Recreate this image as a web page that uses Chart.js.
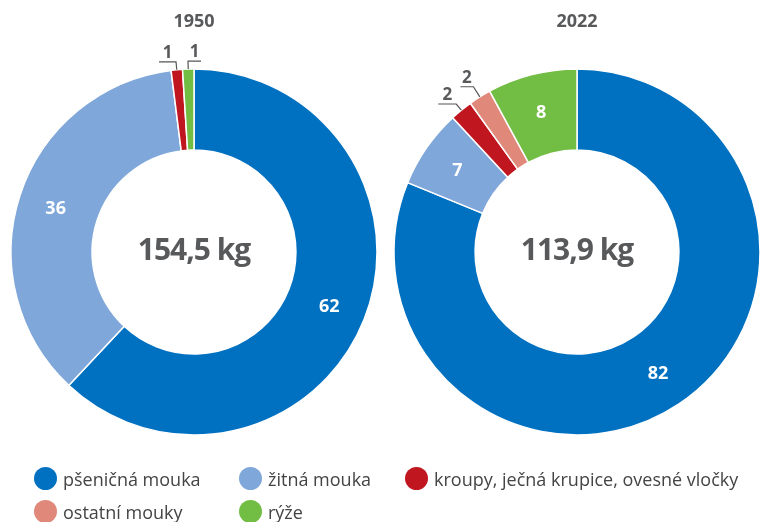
<!DOCTYPE html>
<html>
<head>
<meta charset="utf-8">
<script src="https://cdn.jsdelivr.net/npm/chart.js@4/dist/chart.umd.min.js"></script>
<style>
  html, body { margin:0; padding:0; background:#fff; width:763px; height:522px; overflow:hidden; font-family:"Open Sans", sans-serif; }
  #c1 { position:absolute; left:0; top:0; }
  #c2 { position:absolute; left:389px; top:0; }
  #legend { position:absolute; left:34px; top:462px; display:grid; grid-template-columns:205px 166px auto; grid-auto-rows:33px; z-index:2; }
  .item { display:flex; align-items:center; font-size:18px; color:#444; white-space:nowrap; }
  .dot { width:23px; height:23px; border-radius:50%; margin-right:6px; flex:none; }
</style>
</head>
<body>
<canvas id="c1" width="388" height="504"></canvas>
<canvas id="c2" width="376" height="504"></canvas>
<div id="legend"></div>
<script>
// ---- data ----
const categories = ['pšeničná mouka', 'žitná mouka', 'kroupy, ječná krupice, ovesné vločky', 'ostatní mouky', 'rýže'];
const years = ['1950', '2022'];
const values1950 = [62, 36, 1, 0, 1];
const values2022 = [82, 7, 2, 2, 8];
const totals = ['154,5 kg', '113,9 kg'];
const colors = ['#0070C0', '#7FA7D9', '#C0161F', '#E0897A', '#72BE44'];

const GREY = '#58595b';

const labelPlugin = {
  id: 'sliceLabels',
  afterDatasetsDraw(chart, args, opts) {
    const ctx = chart.ctx;
    const meta = chart.getDatasetMeta(0);
    const data = chart.data.datasets[0].data;
    const first = meta.data[0];
    const cx = first.x, cy = first.y;
    ctx.save();
    ctx.textAlign = 'center';
    ctx.textBaseline = 'alphabetic';
    // title
    ctx.fillStyle = GREY;
    ctx.font = 'bold 18px "Open Sans"';
    ctx.fillText(opts.title, cx, 27);
    // total in the hole
    ctx.font = 'bold 30px "Open Sans"';
    ctx.letterSpacing = '-1px';
    ctx.fillText(opts.total, cx, cy + 8);
    ctx.letterSpacing = '0px';
    meta.data.forEach((arc, i) => {
      const v = data[i];
      if (!v) return;
      const p = arc.getProps(['startAngle', 'endAngle', 'innerRadius', 'outerRadius'], true);
      const mid = (p.startAngle + p.endAngle) / 2;
      const cos = Math.cos(mid), sin = Math.sin(mid);
      const txt = String(Math.round(v));
      if (v >= 5) {
        const r = (p.innerRadius + p.outerRadius) / 2 + 3;
        ctx.fillStyle = '#fff';
        ctx.font = 'bold 18px "Open Sans"';
        ctx.fillText(txt, cx + r * cos, cy + r * sin + 6.5);
      } else {
        const c = opts.callouts[i] || { side: 'left', elbow: 8, len: 15 };
        const x0 = cx + p.outerRadius * cos, y0 = cy + p.outerRadius * sin;
        const x1 = x0 + c.elbow * cos, y1 = y0 + c.elbow * sin;
        const x2 = x1 + (c.side === 'left' ? -c.len : c.len);
        ctx.strokeStyle = '#555';
        ctx.lineWidth = 1.2;
        ctx.beginPath();
        ctx.moveTo(x0, y0);
        ctx.lineTo(x1, y1);
        ctx.lineTo(x2, y1);
        ctx.stroke();
        ctx.fillStyle = GREY;
        ctx.font = 'bold 17px "Open Sans"';
        ctx.fillText(txt, (x1 + x2) / 2, y1 - 4);
      }
    });
    ctx.restore();
  }
};

function makeChart(id, values, title, total, callouts) {
  return new Chart(document.getElementById(id), {
    type: 'doughnut',
    data: {
      labels: categories,
      datasets: [{
        data: values,
        backgroundColor: colors,
        borderColor: '#ffffff',
        borderWidth: 1.5,
        hoverOffset: 0
      }]
    },
    options: {
      responsive: false,
      animation: false,
      radius: 183,
      cutout: '55.7%',
      layout: { padding: 0 },
      plugins: {
        legend: { display: false },
        tooltip: { enabled: false },
        sliceLabels: { title, total, callouts }
      }
    },
    plugins: [labelPlugin]
  });
}

makeChart('c1', values1950, years[0], totals[0], {
  2: { side: 'left', elbow: 8, len: 17 },
  4: { side: 'right', elbow: 8, len: 13 }
});
makeChart('c2', values2022, years[1], totals[1], {
  2: { side: 'left', elbow: 8, len: 18 },
  3: { side: 'left', elbow: 12, len: 13 }
});

// HTML legend built from the same arrays
const legend = document.getElementById('legend');
categories.forEach((name, i) => {
  const item = document.createElement('div');
  item.className = 'item';
  const dot = document.createElement('span');
  dot.className = 'dot';
  dot.style.background = colors[i];
  item.appendChild(dot);
  item.appendChild(document.createTextNode(name));
  legend.appendChild(item);
});
</script>
</body>
</html>
